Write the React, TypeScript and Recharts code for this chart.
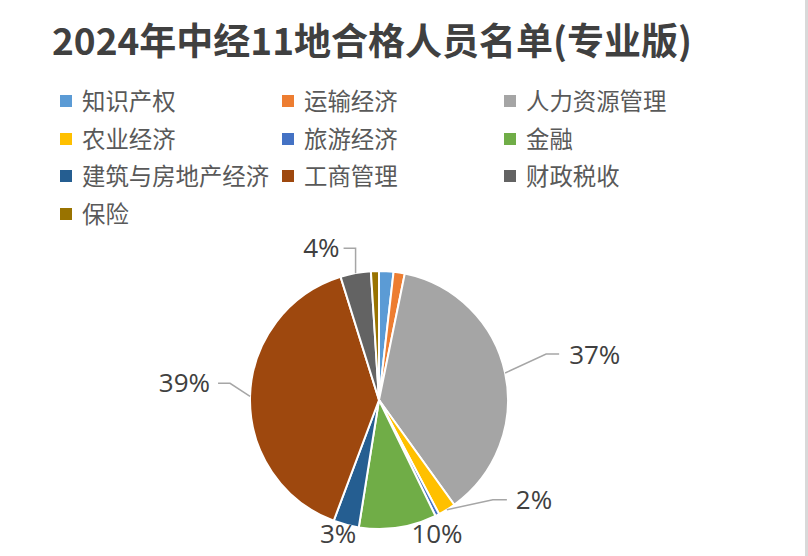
import React from 'react';
import { PieChart, Pie, Cell, Legend } from 'recharts';

const title = '2024年中经11地合格人员名单(专业版)';
const categories = ['知识产权', '运输经济', '人力资源管理', '农业经济', '旅游经济', '金融', '建筑与房地产经济', '工商管理', '财政税收', '保险'];
const counts = [18, 14, 368, 22, 5, 97, 32, 394, 38, 10];
const colors = ['#5B9BD5', '#ED7D31', '#A5A5A5', '#FFC000', '#4472C4', '#70AD47', '#255E91', '#9E480E', '#636363', '#997300'];

const data = categories.map((name, i) => ({ name, value: counts[i] }));

type LabelLayout = { ex?: number; ey?: number; hx?: number; tx: number; ty: number; anchor: 'start' | 'end' | 'middle' };
const labelLayout: Record<string, LabelLayout> = {
  '财政税收': { ex: 0, ey: -25, hx: -12, tx: -16, ty: -26, anchor: 'end' },
  '人力资源管理': { ex: 41, ey: -19, hx: 13, tx: 64, ty: -19, anchor: 'start' },
  '农业经济': { ex: 46, ey: -10, hx: 14, tx: 69, ty: -11, anchor: 'start' },
  '工商管理': { ex: -20, ey: -13, hx: -12, tx: -40, ty: -14, anchor: 'end' },
  '建筑与房地产经济': { tx: -8, ty: 8, anchor: 'middle' },
  '金融': { tx: 39, ty: 5, anchor: 'middle' },
};

const RAD = Math.PI / 180;

const renderLabel = (props: any) => {
  const { cx, cy, midAngle, outerRadius, percent, index } = props;
  const name = categories[index];
  const lay = labelLayout[name];
  if (!lay) return null;
  const px = cx + outerRadius * Math.cos(-midAngle * RAD);
  const py = cy + outerRadius * Math.sin(-midAngle * RAD);
  const txt = `${Math.round(percent * 100)}%`;
  return (
    <g key={`lbl-${index}`}>
      {lay.ex !== undefined && (
        <polyline
          points={`${px},${py} ${px + lay.ex},${py + (lay.ey || 0)} ${px + lay.ex + (lay.hx || 0)},${py + (lay.ey || 0)}`}
          fill="none"
          stroke="#A6A6A6"
          strokeWidth={1.5}
        />
      )}
      <text
        x={px + lay.tx}
        y={py + lay.ty}
        textAnchor={lay.anchor}
        dominantBaseline="central"
        fill="#404040"
        fontSize={26}
        fontFamily="'Open Sans', 'Noto Sans', sans-serif"
      >
        {txt}
      </text>
    </g>
  );
};

const renderLegend = () => (
  <div style={{ position: 'relative', width: 808, height: 152 }}>
    {categories.map((name, i) => {
      const col = i % 3;
      const row = Math.floor(i / 3);
      return (
        <div
          key={name}
          style={{
            position: 'absolute',
            left: 60 + col * 222,
            top: row * 37.7,
            height: 37.7,
            display: 'flex',
            alignItems: 'center',
            whiteSpace: 'nowrap',
          }}
        >
          <span style={{ display: 'inline-block', width: 12, height: 12, background: colors[i], marginRight: 10 }} />
          <span style={{ fontSize: 23.4, color: '#595959', fontFamily: "'Noto Sans CJK SC', sans-serif", lineHeight: '37.7px' }}>{name}</span>
        </div>
      );
    })}
  </div>
);

export default function App() {
  return (
    <div style={{ position: 'absolute', left: 0, top: 0, width: 808, height: 556, background: '#ffffff', overflow: 'hidden' }}>
      <div
        style={{
          position: 'absolute',
          left: 52,
          top: 14,
          fontSize: 37,
          fontWeight: 700,
          color: '#404040',
          fontFamily: "'Noto Sans CJK SC', sans-serif",
          whiteSpace: 'nowrap',
          lineHeight: '50px',
          zIndex: 2,
        }}
      >
        {title}
      </div>
      <PieChart width={808} height={556} margin={{ top: 0, right: 0, bottom: 0, left: 0 }}>
        <Legend
          layout="vertical"
          align="center"
          verticalAlign="middle"
          content={renderLegend}
          wrapperStyle={{ position: 'absolute', top: 82, left: 0, width: 808, height: 152 }}
        />
        <Pie
          data={data}
          dataKey="value"
          nameKey="name"
          cx={379}
          cy={400}
          outerRadius={129}
          startAngle={90}
          endAngle={-270}
          stroke="#ffffff"
          strokeWidth={2}
          labelLine={false}
          label={renderLabel}
          isAnimationActive={false}
        >
          {data.map((d, i) => (
            <Cell key={d.name} fill={colors[i]} />
          ))}
        </Pie>
      </PieChart>
      <div style={{ position: 'absolute', left: 805, top: 0, width: 3, height: 556, background: '#D9D9D9' }} />
    </div>
  );
}
